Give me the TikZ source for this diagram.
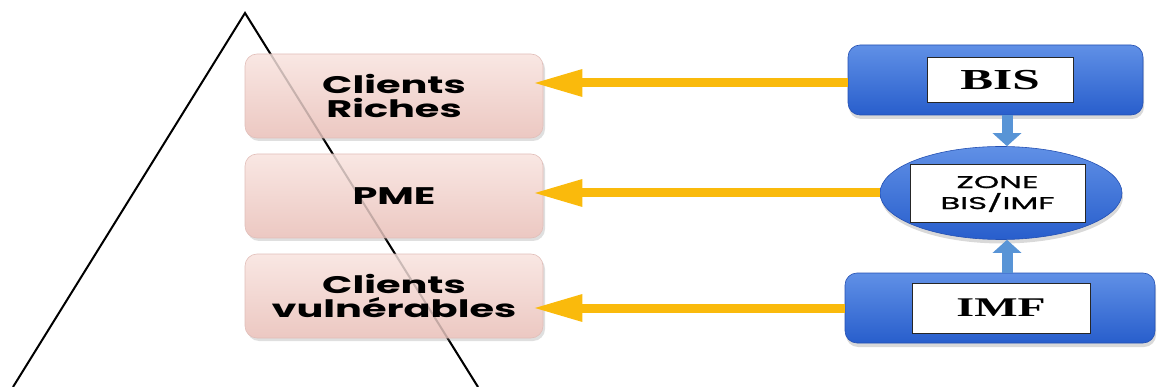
\documentclass[tikz,border=0pt]{standalone}
\usepackage{fontspec}
\newfontfamily\popfont{Poppins}[FakeStretch=1.66]
\newfontfamily\zonefont{Poppins}[FakeStretch=1.9,FakeBold=1.2]
\newfontfamily\serfont{Liberation Serif}[FakeStretch=1.7]
\usetikzlibrary{shadows,arrows.meta,calc,shapes.geometric}
\definecolor{pinkA}{RGB}{249,231,227}
\definecolor{pinkB}{RGB}{236,200,194}
\definecolor{pinkE}{RGB}{225,190,185}
\definecolor{gold}{RGB}{250,186,12}
\definecolor{blueA}{RGB}{96,144,230}
\definecolor{blueB}{RGB}{40,94,204}
\definecolor{blueE}{RGB}{36,80,178}
\definecolor{arrowblue}{RGB}{88,148,214}
\begin{document}
\begin{tikzpicture}[x=1pt,y=-1pt,
  pinkbox/.style={rounded corners=12pt, minimum width=298pt, minimum height=84pt,
    top color=pinkA, bottom color=pinkB, draw=pinkE, line width=0.6pt,
    drop shadow={opacity=0.25,shadow xshift=2pt,shadow yshift=-3pt},
    font=\popfont\bfseries\fontsize{24}{24}\selectfont, align=center, inner sep=0pt},
  bluebox/.style={rounded corners=12pt, minimum height=70pt,
    top color=blueA, bottom color=blueB, draw=blueE, line width=0.6pt,
    drop shadow={opacity=0.3,shadow xshift=1pt,shadow yshift=-4pt}, inner sep=0pt},
  whitebox/.style={draw=black!85, line width=1pt, fill=white, inner sep=0pt, align=center},
  goldarrow/.style={draw=gold, line width=9pt,
    -{Triangle[length=50pt,width=25pt]}, shorten >=-11pt},
  bluearrow/.style={draw=arrowblue, line width=11pt,
    -{Triangle[length=13pt,width=28pt]}},
  pyr/.style={draw=black, line width=2pt}
]
\useasboundingbox (0,0) rectangle (1158,387);
% pyramid
\coordinate (apex) at (245,13);
\coordinate (bl) at (13,387);
\coordinate (br) at (478,387);
\draw[pyr] (bl) -- (apex) -- (br);
% pink boxes
\node[pinkbox] (riches) at (394,96) {Clients\\Riches};
\node[pinkbox] (pme) at (394,196) {PME};
\node[pinkbox] (vuln) at (394,296) {Clients\\vulnérables};
\draw[pyr, opacity=0.18] (apex) -- (br);
% blue boxes
\node[bluebox, minimum width=295pt] (bis) at (995.5,80) {};
\node[whitebox, minimum width=146pt, minimum height=45pt, font=\serfont\bfseries\fontsize{29}{29}\selectfont] (bist) at (1000,80.5) {BIS};
\node[ellipse, minimum width=242pt, minimum height=93pt, top color=blueA, bottom color=blueB, draw=blueE, line width=0.6pt,
  drop shadow={opacity=0.3,shadow xshift=1pt,shadow yshift=-4pt}, inner sep=0pt] (zone) at (1001,193) {};
\node[whitebox, minimum width=175pt, minimum height=58pt, font=\zonefont\fontsize{17}{21}\selectfont] (zonet) at (997.5,194) {ZONE\\BIS/IMF};
\node[bluebox, minimum width=310pt] (imf) at (1000,308) {};
\node[whitebox, minimum width=178pt, minimum height=50pt, font=\serfont\bfseries\fontsize{27}{27}\selectfont] (imft) at (1001,308) {IMF};
% arrows
\coordinate (ax) at (1007,0);
\coordinate (ay) at (0,83);
\draw[bluearrow] (ax |- bis.south) -- (ax |- zone.north);
\draw[bluearrow] (ax |- imf.north) -- (ax |- zone.south);
\draw[goldarrow] (bis.west |- ay) -- (riches.east |- ay);
\draw[goldarrow] (zone.west) -- (pme.east |- zone.west);
\draw[goldarrow] (imf.west) -- (vuln.east |- imf.west);
\end{tikzpicture}
\end{document}
